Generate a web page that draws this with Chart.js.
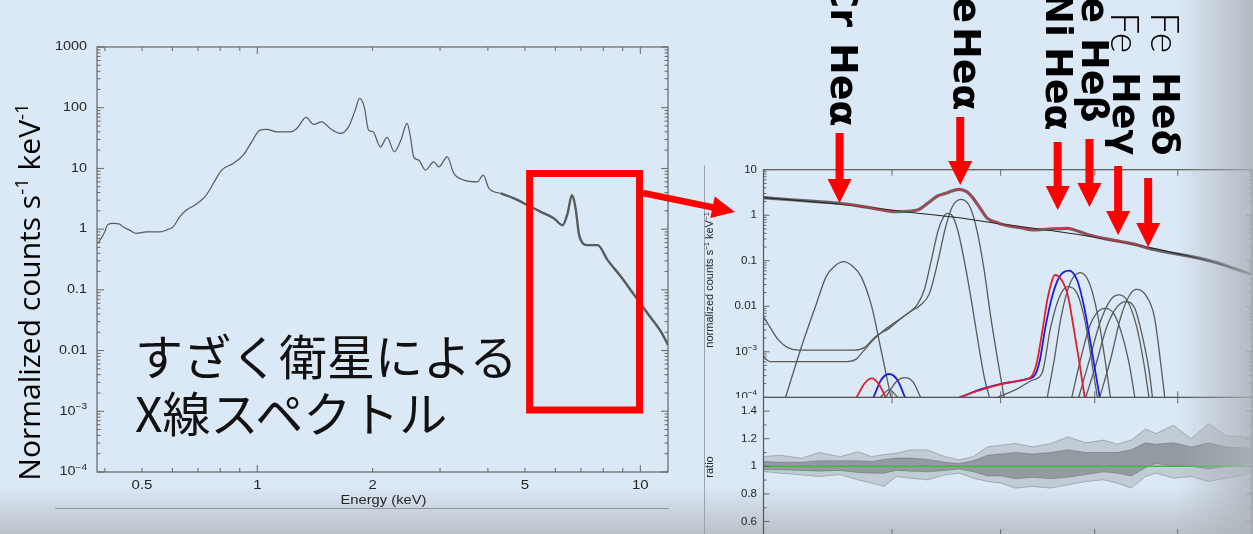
<!DOCTYPE html>
<html>
<head>
<meta charset="utf-8">
<script src="https://cdn.jsdelivr.net/npm/chart.js@4.4.1/dist/chart.umd.min.js"></script>
<style>
  html, body { margin: 0; padding: 0; }
  body { width: 1253px; height: 534px; overflow: hidden; position: relative; background: #dbe8f6; }
  canvas { position: absolute; }
  #broad { left: 0; top: 0; }
  #zoomTop { left: 700px; top: 0; }
  #zoomRatio { left: 700px; top: 397px; }
  #shadeBottom { position: absolute; left: 0; top: 486px; width: 1253px; height: 48px;
    background: linear-gradient(to bottom, rgba(186,193,201,0), rgba(186,193,201,1)); }
  #shadeRight { position: absolute; left: 1178px; top: 0; width: 75px; height: 534px;
    background: linear-gradient(to right, rgba(172,178,185,0), rgba(172,178,185,0.85)); }
  #rule { position: absolute; left: 55px; top: 508px; width: 614px; height: 1px; background: #8e959c; }
  #figEdge { position: absolute; left: 704px; top: 165px; width: 1px; height: 369px; background: #9aa4ae; }
  #caption { position: absolute; left: 135px; top: 326px; font-family: "Noto Sans CJK JP"; font-size: 48px;
    line-height: 57px; color: #111; white-space: nowrap; }
</style>
</head>
<body>
<div id="shadeBottom"></div>
<div id="rule"></div>
<div id="figEdge"></div>
<canvas id="broad" width="745" height="534"></canvas>
<canvas id="zoomTop" width="553" height="398"></canvas>
<canvas id="zoomRatio" width="553" height="139"></canvas>
<div id="caption">すざく衛星による<br>X線スペクトル</div>
<div id="shadeRight"></div>
<script>
// ---- broadband spectrum (left), keV / counts s-1 keV-1
const broadE = [0.3835, 0.3915, 0.3994, 0.4074, 0.42, 0.437, 0.4458, 0.464, 0.4834, 0.5134, 0.556, 0.585, 0.603, 0.627, 0.6533,
  0.694, 0.7295, 0.752, 0.783, 0.807, 0.865, 0.919, 0.967, 1.016, 1.058, 1.124, 1.218, 1.268, 1.341, 1.402, 1.474, 1.55,
  1.646, 1.731, 1.802, 1.849, 1.902, 1.952, 2.005, 2.096, 2.182, 2.279, 2.37, 2.461, 2.51, 2.561, 2.639, 2.748, 2.888,
  2.977, 3.132, 3.26, 3.462, 3.753, 3.891, 4.025, 4.318, 4.679, 5.072, 5.497, 5.955, 6.265, 6.457, 6.626, 6.787, 6.922,
  7.283, 7.735, 8.216, 8.904, 9.646, 10.45, 11.33, 11.81];
const broadFlux = [0.581, 0.71, 0.90, 1.195, 1.24, 1.21, 1.09, 0.963, 0.85, 0.90, 0.90, 0.99, 1.09, 1.59, 2.06,
  2.6, 3.4, 4.5, 7.0, 9.4, 12.1, 16.6, 27.4, 42.8, 43.9, 40.1, 40.1, 45.6, 69.2, 53.1, 58.6, 45.6,
  37.7, 48.4, 91.3, 142, 103, 42.8, 40.1, 22.7, 32.4, 18.8, 29, 55.1, 33.2, 15.5, 13.7, 9.37, 12.8,
  10.6, 15.5, 8.27, 6.42, 6.01, 7.76, 4.68, 3.87, 3.2, 2.49, 1.93, 1.50, 1.16, 1.81, 3.63, 2.06, 0.797,
  0.545, 0.545, 0.309, 0.164, 0.0818, 0.0408, 0.0203, 0.0123];
const boxE = [5.14, 9.95];
const boxFlux = [8.25, 1.05e-3];
const linkFlux = 3.94;

// ---- 5-10 keV zoom (right, top panel)
const specE = [5.0, 5.2, 5.4, 5.57, 5.8, 6.04, 6.22, 6.31, 6.40, 6.475, 6.54, 6.60, 6.67, 6.72, 6.80, 6.87, 6.97, 7.04,
  7.2, 7.33, 7.5, 7.7, 7.8, 7.9, 8.1, 8.31, 8.5, 8.64, 8.9, 9.175, 9.5, 9.75, 10.0];
const specFlux = [2.43, 2.19, 1.99, 1.83, 1.49, 1.20, 1.30, 1.82, 2.64, 3.03, 3.46, 3.71, 3.29, 2.56, 1.42, 0.855, 0.686, 0.61,
  0.532, 0.473, 0.497, 0.515, 0.458, 0.387, 0.31, 0.262, 0.222, 0.187, 0.150, 0.123, 0.092, 0.068, 0.05];
const contE = [5.0, 5.57, 6.16, 6.6, 6.98, 7.52, 8.1, 8.73, 9.5, 10.0];
const contFlux = [2.43, 1.75, 1.15, 0.88, 0.65, 0.46, 0.305, 0.181, 0.09, 0.05];

const compCr = [[5.159, 1e-4], [5.277, 1.29e-3], [5.382, 9.8e-3], [5.465, 0.0447], [5.533, 0.0766], [5.602, 0.0955],
  [5.672, 0.0766], [5.743, 0.0447], [5.83, 9.8e-3], [5.902, 1.29e-3], [5.991, 1e-4]];
const compFeA = [[5.0, 5.9e-3], [5.044, 3.56e-3], [5.107, 1.82e-3], [5.172, 1.25e-3], [5.251, 1.09e-3], [5.436, 1.09e-3],
  [5.686, 1.09e-3], [5.772, 1.25e-3], [5.859, 2.15e-3], [5.976, 3.27e-3], [6.097, 5.9e-3], [6.157, 7.6e-3], [6.218, 0.0107],
  [6.281, 0.0228], [6.345, 0.104], [6.407, 0.473], [6.457, 0.93], [6.488, 1.10], [6.53, 1.01], [6.586, 0.473], [6.653, 0.0877],
  [6.72, 0.0116], [6.787, 1.29e-3], [6.845, 2.4e-4], [6.89, 1e-4]];
const compFeB = [[5.0, 7.8e-4], [5.044, 6.1e-4], [5.146, 6.1e-4], [5.629, 6.1e-4], [5.7, 6.8e-4], [5.758, 1.01e-3],
  [5.83, 1.67e-3], [5.917, 2.77e-3], [6.036, 4.59e-3], [6.157, 7.6e-3], [6.249, 0.0107], [6.328, 0.0192], [6.407, 0.104],
  [6.471, 0.515], [6.536, 1.54], [6.618, 2.23], [6.701, 1.54], [6.768, 0.473], [6.838, 0.0627], [6.902, 5.9e-3],
  [6.971, 6.6e-4], [7.034, 1e-4]];
const compCrRed = [[5.706, 1e-4], [5.772, 2.03e-4], [5.83, 2.6e-4], [5.888, 1.96e-4], [5.947, 1e-4]];
const compCrBlue = [[5.845, 1e-4], [5.908, 2.4e-4], [5.976, 3.25e-4], [6.046, 2.4e-4], [6.112, 1e-4]];
const compCrGrayA = [[5.947, 1e-4], [6.036, 2.2e-4], [6.112, 2.7e-4], [6.18, 2.2e-4], [6.249, 1e-4]];
const compCrGrayB = [[5.902, 1e-4], [5.976, 1.45e-4], [6.05, 1e-4]];
const compNiRed = [[6.601, 1e-4], [6.734, 1.29e-4], [6.971, 1.86e-4], [7.222, 2.4e-4], [7.312, 2.84e-4], [7.367, 5.6e-4],
  [7.423, 2.54e-3], [7.479, 0.0137], [7.516, 0.0293], [7.559, 0.0486], [7.628, 0.0391], [7.704, 0.0162], [7.762, 3.56e-3],
  [7.829, 5.6e-4], [7.887, 1e-4]];
const compNiBlue = [[6.618, 1e-4], [6.768, 1.4e-4], [7.006, 1.96e-4], [7.254, 2.48e-4], [7.349, 3.1e-4], [7.401, 6.6e-4],
  [7.46, 3.56e-3], [7.535, 0.0177], [7.61, 0.0447], [7.713, 0.0605], [7.802, 0.0378], [7.88, 9.8e-3], [7.947, 1.82e-3],
  [8.01, 3.36e-4], [8.057, 1e-4]];
const compG1 = [[6.971, 1e-4], [7.146, 1.45e-4], [7.327, 2.4e-4], [7.423, 3.36e-4], [7.516, 3.56e-3], [7.61, 0.0162],
  [7.704, 0.0269], [7.802, 0.0192], [7.88, 5.9e-3], [7.94, 1.29e-3], [7.998, 2.4e-4], [8.03, 1e-4]];
const compG2 = [[7.479, 1e-4], [7.553, 6.6e-4], [7.628, 5.9e-3], [7.725, 0.0319], [7.839, 0.0547], [7.94, 0.0319],
  [8.037, 5.9e-3], [8.118, 6.6e-4], [8.18, 1e-4]];
const compG3 = [[7.744, 1e-4], [7.839, 6.6e-4], [7.94, 3.56e-3], [8.037, 7.6e-3], [8.118, 9.0e-3], [8.219, 6.9e-3],
  [8.323, 2.15e-3], [8.407, 4.7e-4], [8.468, 1e-4]];
const compG4 = [[7.82, 1e-4], [7.94, 6.6e-4], [8.057, 4.22e-3], [8.18, 0.0137], [8.282, 0.0177], [8.385, 0.0126],
  [8.49, 3.56e-3], [8.577, 5.6e-4], [8.64, 1e-4]];
const compG5 = [[7.899, 1e-4], [8.018, 5.6e-4], [8.138, 3.56e-3], [8.26, 9.8e-3], [8.364, 0.0126], [8.468, 9.0e-3],
  [8.551, 2.54e-3], [8.64, 4.0e-4], [8.683, 1e-4]];
const compG6 = [[8.057, 1e-4], [8.18, 6.6e-4], [8.302, 5.9e-3], [8.407, 0.0177], [8.49, 0.0235], [8.598, 0.0177],
  [8.706, 5.9e-3], [8.78, 6.6e-4], [8.835, 1e-4]];

// marked lines
const lineElem = ["Cr", "Fe", "Ni", "Fe", "Fe", "Fe"];
const lineName = ["Heα", "Heα", "Heα", "Heβ", "Heγ", "Heδ"];
const lineE = [5.57, 6.61, 7.59, 7.94, 8.27, 8.63];
const lineTipFlux = [1.85, 4.6, 1.30, 1.51, 0.367, 0.2];

// ---- ratio panel (envelope of the error bars)
const ratioE = [5.0, 5.12, 5.277, 5.409, 5.574, 5.715, 5.83, 5.932, 6.036, 6.157, 6.312, 6.471, 6.601, 6.734, 6.871, 7.006,
  7.146, 7.327, 7.516, 7.704, 7.899, 8.1, 8.26, 8.426, 8.598, 8.726, 8.946, 9.173, 9.404, 9.64, 10.0];
const ratioHi = [1.07, 1.08, 1.058, 1.10, 1.07, 1.105, 1.07, 1.085, 1.094, 1.118, 1.118, 1.07, 1.046, 1.07, 1.141, 1.153,
  1.165, 1.141, 1.165, 1.213, 1.17, 1.19, 1.16, 1.19, 1.27, 1.237, 1.297, 1.2, 1.309, 1.22, 1.213];
const ratioLo = [0.962, 0.95, 0.938, 0.926, 0.94, 0.902, 0.878, 0.854, 0.926, 0.914, 0.902, 0.938, 0.95, 0.914, 0.89, 0.878,
  0.842, 0.854, 0.842, 0.866, 0.89, 0.902, 0.878, 0.842, 0.926, 0.95, 0.914, 0.926, 0.89, 0.914, 0.95];
const ratioCoreHi = [1.035, 1.03, 1.03, 1.04, 1.04, 1.04, 1.035, 1.05, 1.06, 1.06, 1.05, 1.03, 1.02, 1.04, 1.08, 1.09,
  1.1, 1.09, 1.1, 1.12, 1.1, 1.1, 1.1, 1.12, 1.17, 1.16, 1.17, 1.14, 1.17, 1.14, 1.13];
const ratioCoreLo = [0.975, 0.975, 0.97, 0.965, 0.97, 0.955, 0.95, 0.95, 0.97, 0.965, 0.96, 0.97, 0.98, 0.96, 0.93, 0.93,
  0.91, 0.92, 0.91, 0.92, 0.94, 0.96, 0.95, 0.93, 0.99, 1.02, 1.0, 1.0, 0.98, 1.0, 1.02];
const unityE = [5, 10];
const unityRatio = [1, 1];

// ---- tick labels
const broadXTicks = [0.5, 1, 2, 5, 10];
const broadXLabels = ["0.5", "1", "2", "5", "10"];
const broadYTicks = [1000, 100, 10, 1, 0.1, 0.01, 1e-3, 1e-4];
const broadYLabels = ["1000", "100", "10", "1", "0.1", "0.01", ["10", "−3"], ["10", "−4"]];
const zoomXTicks = [6, 7, 8, 9];
const zoomYTicks = [10, 1, 0.1, 0.01, 1e-3, 1e-4];
const zoomYLabels = ["10", "1", "0.1", "0.01", ["10", "−3"], ["10", "−4"]];
const ratioTicks = [0.6, 0.8, 1, 1.2, 1.4];
const ratioLabels = ["0.6", "0.8", "1", "1.2", "1.4"];
const ratioMinor = [0.5, 0.7, 0.9, 1.1, 1.3, 1.5];

// ---- layout of the annotations (pixels)
const labelDx = [1, 4, -2, 2, 5, 15];
const labelTop = [43, 27, 47, 38, 72, 72];
const prefixEnd = [27, 23, 37, 23, 53, 53];
const prefixLight = [false, false, false, false, true, true];
const shaftTop = [133, 117, 142, 139, 166, 178];
const linkTip = [735, 212];

const AXIS = "#666";
const TEXT = "#262626";
const RED = "#ff0000";

function pts(xs, ys) { return xs.map((x, i) => ({ x: x, y: ys[i] })); }
function pairs(list) { return list.map((p) => ({ x: p[0], y: p[1] })); }
function curve(data, color, width, extra) {
  return Object.assign({ data: data, borderColor: color, borderWidth: width, pointRadius: 0,
    cubicInterpolationMode: "monotone", fill: false }, extra || {});
}

function isDecade(v) { const l = Math.log10(v); return Math.abs(l - Math.round(l)) < 1e-9; }
function logSteps(min, max) {
  const out = [];
  for (let d = Math.floor(Math.log10(min)); d <= Math.ceil(Math.log10(max)); d++) {
    for (let k = 1; k < 10; k++) {
      const v = k * Math.pow(10, d);
      if (v >= min * 0.999 && v <= max * 1.001) out.push(v);
    }
  }
  return out;
}

function tickMarks(chart, axis, values, lenOf) {
  const { ctx, chartArea: a } = chart;
  const sc = chart.scales[axis];
  ctx.beginPath();
  values.forEach((v) => {
    const p = sc.getPixelForValue(v), len = lenOf(v);
    if (axis === "x") {
      ctx.moveTo(p, a.bottom); ctx.lineTo(p, a.bottom - len);
      ctx.moveTo(p, a.top); ctx.lineTo(p, a.top + len);
    } else {
      ctx.moveTo(a.left, p); ctx.lineTo(a.left + len, p);
      ctx.moveTo(a.right, p); ctx.lineTo(a.right - len, p);
    }
  });
  ctx.stroke();
}

// tick label, optionally with an exponent; sx widens the glyphs like the slide does
function label(ctx, text, x, y, align, sx, size) {
  const parts = Array.isArray(text) ? text : [text];
  const big = size + "px 'Liberation Sans'", small = (size * 0.7) + "px 'Liberation Sans'";
  ctx.save();
  ctx.font = big;
  const wb = ctx.measureText(parts[0]).width;
  let we = 0;
  if (parts[1]) { ctx.font = small; we = ctx.measureText(parts[1]).width; }
  const w = (wb + we) * sx;
  const x0 = align === "right" ? x - w : align === "center" ? x - w / 2 : x;
  ctx.translate(x0, y);
  ctx.scale(sx, 1);
  ctx.textAlign = "left";
  ctx.font = big;
  ctx.fillText(parts[0], 0, 0);
  if (parts[1]) { ctx.font = small; ctx.fillText(parts[1], wb, -size * 0.38); }
  ctx.restore();
}

// rotated title made of [text, superscript?] runs, centred on (cx, cy), baseline through cx
function richTitle(ctx, runs, cx, cy, size, family) {
  const fontOf = (sup) => (sup ? size * 0.62 : size) + "px " + family;
  ctx.save();
  ctx.translate(cx, cy);
  ctx.rotate(-Math.PI / 2);
  ctx.textAlign = "left";
  ctx.textBaseline = "alphabetic";
  let total = 0;
  runs.forEach((r) => { ctx.font = fontOf(r[1]); total += ctx.measureText(r[0]).width; });
  let x = -total / 2;
  runs.forEach((r) => {
    ctx.font = fontOf(r[1]);
    ctx.fillText(r[0], x, r[1] ? -size * 0.4 : 0);
    x += ctx.measureText(r[0]).width;
  });
  ctx.restore();
}

function baseOptions(xMin, xMax, yType, yMin, yMax, pad, yWidth, xHeight) {
  return {
    responsive: false, animation: false, events: [],
    layout: { padding: pad },
    plugins: { legend: { display: false }, tooltip: { enabled: false } },
    scales: {
      x: { type: "logarithmic", min: xMin, max: xMax, ticks: { display: false }, grid: { display: false },
        border: { display: false }, afterFit: (s) => { s.height = xHeight; } },
      y: { type: yType, min: yMin, max: yMax, ticks: { display: false }, grid: { display: false },
        border: { display: false }, afterFit: (s) => { s.width = yWidth; } }
    }
  };
}

const broadDecor = {
  id: "broadDecor",
  afterDatasetsDraw(chart) {
    const { ctx, chartArea: a, scales: { x, y } } = chart;
    ctx.save();
    ctx.strokeStyle = AXIS;
    ctx.lineWidth = 1.2;
    ctx.strokeRect(a.left, a.top, a.right - a.left, a.bottom - a.top);
    ctx.lineWidth = 1;
    tickMarks(chart, "x", logSteps(0.4, 11), (v) => (isDecade(v) ? 7 : 4));
    tickMarks(chart, "y", logSteps(1e-4, 1000), (v) => (isDecade(v) ? 7 : 3.5));

    ctx.fillStyle = TEXT;
    ctx.textBaseline = "middle";
    broadYTicks.forEach((v, i) => label(ctx, broadYLabels[i], a.left - 10, y.getPixelForValue(v), "right", 1.2, 12));
    ctx.textBaseline = "alphabetic";
    broadXTicks.forEach((v, i) => label(ctx, broadXLabels[i], x.getPixelForValue(v), a.bottom + 17, "center", 1.2, 12.5));
    label(ctx, "Energy (keV)", (a.left + a.right) / 2 + 1, a.bottom + 32, "center", 1.18, 12.5);

    ctx.fillStyle = "#000";
    richTitle(ctx, [["Normalized counts s", false], ["-1", true], [" keV", false], ["-1", true]], 39.5, 292, 30, "'Open Sans'");

    // red frame round the Fe-K band and the pointer to the zoom
    const bx0 = x.getPixelForValue(boxE[0]), bx1 = x.getPixelForValue(boxE[1]);
    const by0 = y.getPixelForValue(boxFlux[0]), by1 = y.getPixelForValue(boxFlux[1]);
    ctx.strokeStyle = RED;
    ctx.lineWidth = 7;
    ctx.strokeRect(bx0, by0, bx1 - bx0, by1 - by0);
    const sx = bx1 + 3.5, sy = y.getPixelForValue(linkFlux);
    const dx = linkTip[0] - sx, dy = linkTip[1] - sy, len = Math.hypot(dx, dy);
    const ux = dx / len, uy = dy / len, head = 23, half = 11;
    const hx = linkTip[0] - ux * head, hy = linkTip[1] - uy * head;
    ctx.lineWidth = 6.5;
    ctx.beginPath(); ctx.moveTo(sx, sy); ctx.lineTo(hx + ux, hy + uy); ctx.stroke();
    ctx.fillStyle = RED;
    ctx.beginPath();
    ctx.moveTo(linkTip[0], linkTip[1]);
    ctx.lineTo(hx - uy * half, hy + ux * half);
    ctx.lineTo(hx + uy * half, hy - ux * half);
    ctx.closePath(); ctx.fill();
    ctx.restore();
  }
};

const zoomDecor = {
  id: "zoomDecor",
  afterDatasetsDraw(chart) {
    const { ctx, chartArea: a, scales: { x, y } } = chart;
    ctx.save();
    ctx.strokeStyle = "#555";
    ctx.lineWidth = 1.2;
    ctx.strokeRect(a.left, a.top, a.right - a.left, a.bottom - a.top);
    ctx.strokeStyle = AXIS;
    ctx.lineWidth = 1;
    tickMarks(chart, "x", zoomXTicks, () => 6);
    tickMarks(chart, "y", logSteps(1e-4, 10), (v) => (isDecade(v) ? 6 : 3));

    ctx.fillStyle = TEXT;
    ctx.textBaseline = "middle";
    zoomYTicks.forEach((v, i) => label(ctx, zoomYLabels[i], a.left - 6.5, y.getPixelForValue(v), "right", 1, 11.5));
    richTitle(ctx, [["normalized counts s", false], ["−1", true], [" keV", false], ["−1", true]], 13, 280, 11, "'Liberation Sans'");

    // arrows and line names
    lineE.forEach((e, i) => {
      const px = x.getPixelForValue(e), tip = y.getPixelForValue(lineTipFlux[i]);
      ctx.fillStyle = RED;
      ctx.fillRect(px - 4, shaftTop[i], 8, tip - 23 - shaftTop[i] + 1);
      ctx.beginPath();
      ctx.moveTo(px - 12, tip - 24); ctx.lineTo(px + 12, tip - 24); ctx.lineTo(px, tip);
      ctx.closePath(); ctx.fill();

      const cx = px + labelDx[i];
      ctx.fillStyle = "#000";
      ctx.save();
      ctx.translate(cx, labelTop[i]);
      ctx.rotate(Math.PI / 2);
      ctx.textBaseline = "middle";
      ctx.textAlign = "left";
      ctx.font = "bold 38px 'DejaVu Sans'";
      ctx.fillText(lineName[i], 0, 0);
      ctx.restore();
      ctx.save();
      ctx.translate(cx, prefixEnd[i]);
      ctx.rotate(Math.PI / 2);
      ctx.textBaseline = "middle";
      ctx.textAlign = "right";
      ctx.font = prefixLight[i] ? "300 39px Lato" : "bold 38px 'DejaVu Sans'";
      ctx.fillText(lineElem[i], 0, 0);
      ctx.restore();
    });
    ctx.restore();
  }
};

const ratioDecor = {
  id: "ratioDecor",
  afterDatasetsDraw(chart) {
    const { ctx, chartArea: a, scales: { y } } = chart;
    ctx.save();
    ctx.strokeStyle = "#555";
    ctx.lineWidth = 1.2;
    ctx.strokeRect(a.left, a.top, a.right - a.left, a.bottom - a.top);
    ctx.strokeStyle = AXIS;
    ctx.lineWidth = 1;
    tickMarks(chart, "x", zoomXTicks, () => 6);
    tickMarks(chart, "y", ratioTicks, () => 6);
    tickMarks(chart, "y", ratioMinor, () => 3);
    ctx.fillStyle = TEXT;
    ctx.textBaseline = "middle";
    ratioTicks.forEach((v, i) => label(ctx, ratioLabels[i], a.left - 6.5, y.getPixelForValue(v), "right", 1, 11.5));
    richTitle(ctx, [["ratio", false]], 13, 70, 11, "'Liberation Sans'");
    ctx.restore();
  }
};

new Chart(document.getElementById("broad"), {
  type: "line",
  data: {
    datasets: [curve(pts(broadE, broadFlux), "rgba(55,55,55,0.8)", 1.2, {
      segment: { borderWidth: (c) => (c.p0.parsed.x > 4.2 ? 2.4 : 1.2) }
    })]
  },
  options: baseOptions(0.3815, 11.81, "logarithmic", 1e-4, 1000, { top: 47, right: 77, bottom: 0, left: 0 }, 97, 62),
  plugins: [broadDecor]
});

const grey = "#5a5a5a";
new Chart(document.getElementById("zoomTop"), {
  type: "line",
  data: {
    datasets: [
      curve(pts(specE.slice(3, 28), specFlux.slice(3, 28)), "#d23446", 1.2),
      curve(pts(contE, contFlux), "#222", 1),
      curve(pts(specE, specFlux), "rgba(45,45,45,0.7)", 3.2),
      curve(pairs(compNiRed), "#e0202e", 1.8),
      curve(pairs(compNiBlue), "#1c1ce0", 1.8),
      curve(pairs(compCrRed), "#e0202e", 1.8),
      curve(pairs(compCrBlue), "#1c1ce0", 1.8),
      curve(pairs(compCr), grey, 1.3),
      curve(pairs(compFeA), grey, 1.3),
      curve(pairs(compFeB), grey, 1.3),
      curve(pairs(compCrGrayA), grey, 1.3),
      curve(pairs(compCrGrayB), grey, 1.3),
      curve(pairs(compG1), grey, 1.3),
      curve(pairs(compG2), grey, 1.3),
      curve(pairs(compG3), grey, 1.3),
      curve(pairs(compG4), grey, 1.3),
      curve(pairs(compG5), grey, 1.3),
      curve(pairs(compG6), grey, 1.3)
    ]
  },
  options: baseOptions(5, 10, "logarithmic", 1e-4, 10, { top: 169.7, right: 1, bottom: 0, left: 0 }, 63.5, 0.7),
  plugins: [zoomDecor]
});

new Chart(document.getElementById("zoomRatio"), {
  type: "line",
  data: {
    datasets: [
      curve(pts(unityE, unityRatio), "#3cba3c", 1.5, { cubicInterpolationMode: "default" }),
      curve(pts(ratioE, ratioCoreHi), "rgba(60,60,60,0.3)", 1, { cubicInterpolationMode: "default", fill: 2, backgroundColor: "rgba(50,50,50,0.32)" }),
      curve(pts(ratioE, ratioCoreLo), "rgba(60,60,60,0.3)", 1, { cubicInterpolationMode: "default" }),
      curve(pts(ratioE, ratioHi), "rgba(110,110,110,0.45)", 1, { cubicInterpolationMode: "default", fill: 4, backgroundColor: "rgba(125,125,125,0.26)" }),
      curve(pts(ratioE, ratioLo), "rgba(110,110,110,0.45)", 1, { cubicInterpolationMode: "default" })
    ]
  },
  options: baseOptions(5, 10, "linear", 0.5, 1.5, { top: 0.3, right: 1, bottom: 0, left: 0 }, 63.5, 0.7),
  plugins: [ratioDecor]
});
</script>
</body>
</html>
